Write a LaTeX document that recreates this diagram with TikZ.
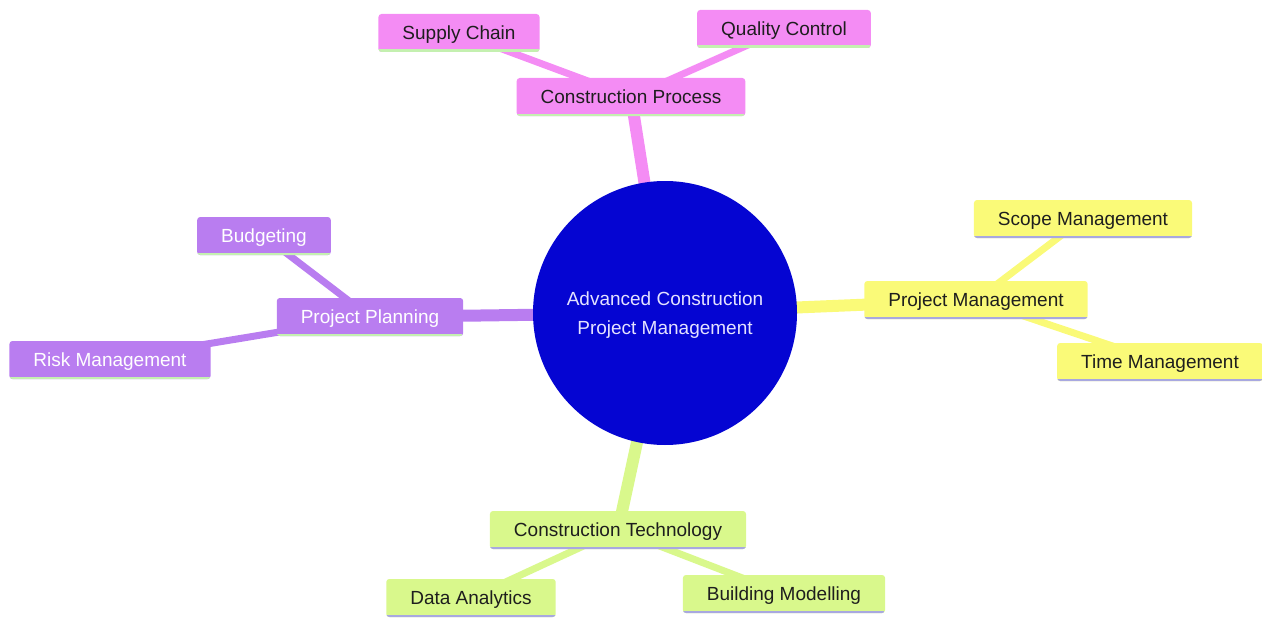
\documentclass[tikz,border=0pt]{standalone}
\usepackage{fontspec}
\setmainfont{Liberation Sans}
\usetikzlibrary{backgrounds}
\definecolor{pinkc}{HTML}{F48CF4}
\definecolor{purplec}{HTML}{B97DF0}
\definecolor{yellowc}{HTML}{FAFA78}
\definecolor{greenc}{HTML}{D9F88C}
\definecolor{bluec}{HTML}{0505D2}
\definecolor{lgreen}{HTML}{C4F0B0}
\definecolor{lav}{HTML}{A8A8E0}
\definecolor{darktxt}{HTML}{1E1E1E}
\definecolor{lighttxt}{HTML}{E4E2FF}
\begin{document}
\begin{tikzpicture}[x=1pt,y=-1pt,
  box/.style 2 args={rectangle, rounded corners=3pt, fill=#1, inner xsep=24pt, inner ysep=0pt,
    minimum height=38pt, text height=13.5pt, text depth=0pt, font=\fontsize{19}{22}\selectfont,
    path picture={\draw[line width=5pt,#2] (path picture bounding box.south west) -- (path picture bounding box.south east);}},
  pinkbox/.style={box={pinkc}{lgreen}, text=darktxt},
  purplebox/.style={box={purplec}{lgreen}, text=white},
  yellowbox/.style={box={yellowc}{lav}, text=darktxt},
  greenbox/.style={box={greenc}{lav}, text=darktxt},
  main/.style={line width=12pt},
  sub/.style={line width=7pt}]
\useasboundingbox (0,0) rectangle (1262,618);
\node[circle, fill=bluec, minimum size=264pt, inner sep=0pt,
  label={[text=lighttxt, align=center, font=\fontsize{19}{29}\selectfont, yshift=-2.5pt]center:Advanced Construction\\Project Management}] (root) at (665,313) {};
\node[pinkbox] (cp) at (631,97) {Construction Process};
\node[pinkbox] (sc) at (459,33) {Supply Chain};
\node[pinkbox] (qc) at (784,29) {Quality Control};
\node[purplebox] (pp) at (370,317) {Project Planning};
\node[purplebox] (bu) at (264,236) {Budgeting};
\node[purplebox] (rm) at (110,360) {Risk Management};
\node[yellowbox] (pm) at (976,300) {Project Management};
\node[yellowbox] (sm) at (1083,219) {Scope Management};
\node[yellowbox] (tm) at (1160,362) {Time Management};
\node[greenbox] (ct) at (618,530) {Construction Technology};
\node[greenbox] (da) at (471,598) {Data Analytics};
\node[greenbox] (bm) at (784,594) {Building Modelling};
\begin{scope}[on background layer]
\draw[main,pinkc] (root.center) -- (cp.center);
\draw[sub,pinkc] (cp.center) -- (sc.center);
\draw[sub,pinkc] (cp.center) -- (qc.center);
\draw[main,purplec] (root.center) -- (pp.center);
\draw[sub,purplec] (pp.center) -- (bu.center);
\draw[sub,purplec] (pp.center) -- (rm.center);
\draw[main,yellowc] (root.center) -- (pm.center);
\draw[sub,yellowc] (pm.center) -- (sm.center);
\draw[sub,yellowc] (pm.center) -- (tm.center);
\draw[main,greenc] (root.center) -- (ct.center);
\draw[sub,greenc] (ct.center) -- (da.center);
\draw[sub,greenc] (ct.center) -- (bm.center);
\end{scope}
\end{tikzpicture}
\end{document}
